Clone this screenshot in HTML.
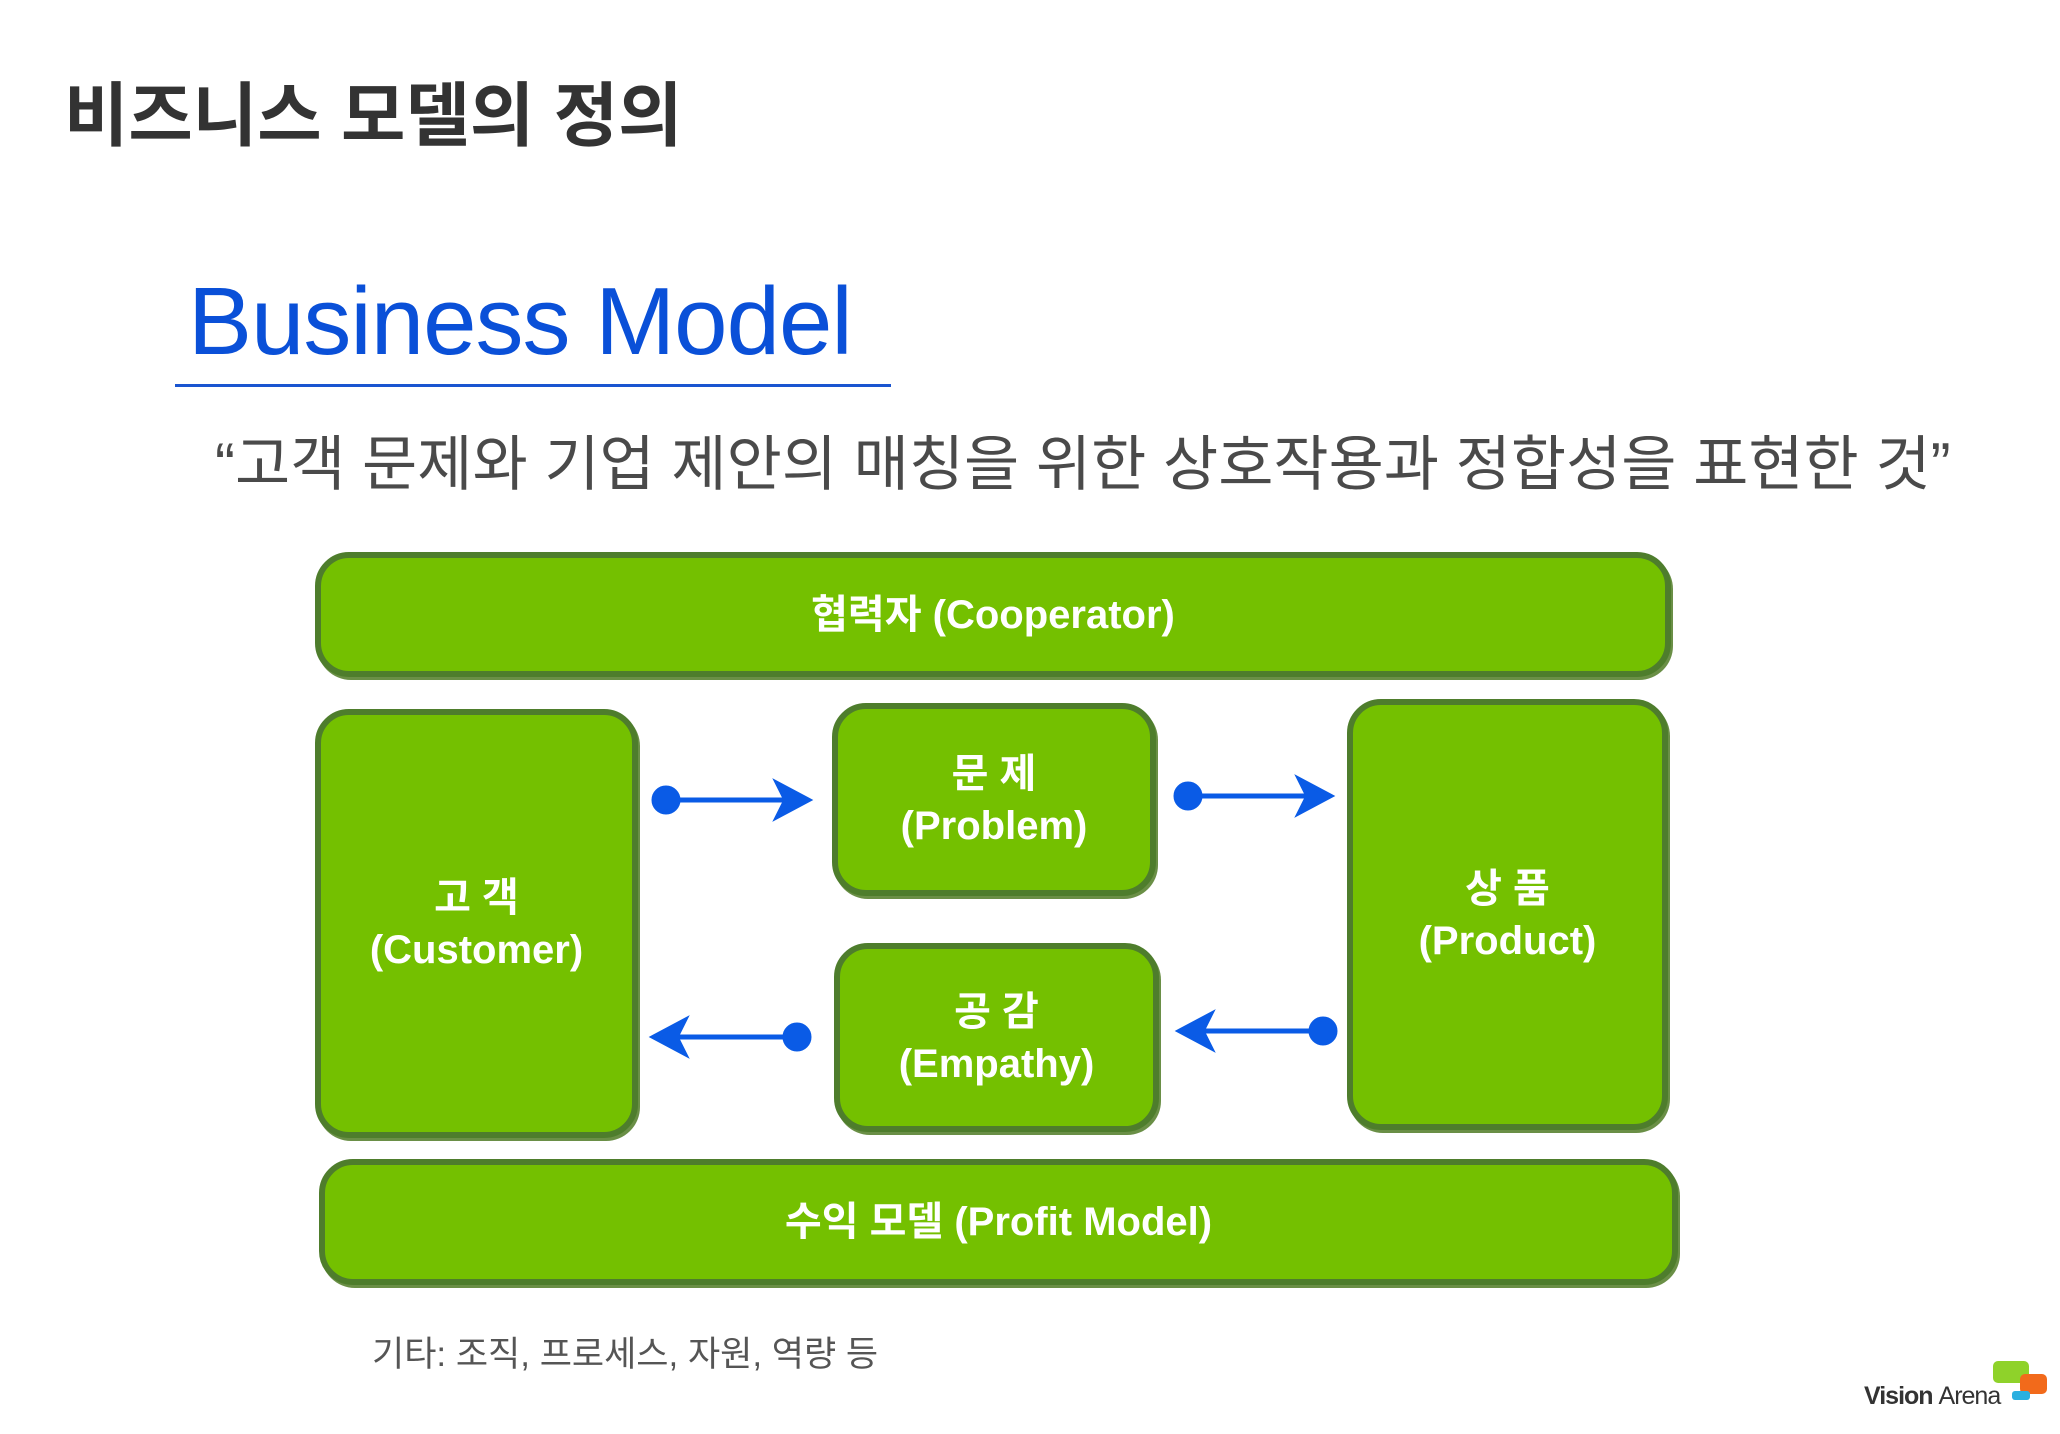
<!DOCTYPE html>
<html><head><meta charset="utf-8"><style>
body{margin:0;width:2060px;height:1434px;background:#fff;position:relative;overflow:hidden;font-family:"Liberation Sans","Noto Sans CJK KR",sans-serif}
.a{position:absolute}
.box{position:absolute;background:#74c000;border:6px solid #4e7d2c;border-radius:34px;box-sizing:border-box;display:flex;align-items:center;justify-content:center;text-align:center;color:#fff;font-weight:bold;font-size:40px;line-height:52px;box-shadow:2px 3px 0 #6a8f46}
</style></head><body>
<div class="a" style="left:64px;top:60px;font-size:70px;font-weight:bold;color:#333">비즈니스 모델의 정의</div>
<div class="a" style="left:188px;top:267px;font-size:96px;color:#0a50d8;letter-spacing:-1px">Business Model</div>
<div class="a" style="left:175px;top:384px;width:716px;height:3px;background:#1a55d0"></div>
<div class="a" style="left:215px;top:416px;font-size:60px;color:#4a4a4a;white-space:nowrap">“고객 문제와 기업 제안의 매칭을 위한 상호작용과 정합성을 표현한 것”</div>
<div class="box" style="left:315px;top:552px;width:1356px;height:125px">협력자 (Cooperator)</div>
<div class="box" style="left:315px;top:709px;width:323px;height:429px">고 객<br>(Customer)</div>
<div class="box" style="left:832px;top:703px;width:324px;height:193px">문 제<br>(Problem)</div>
<div class="box" style="left:834px;top:943px;width:325px;height:189px">공 감<br>(Empathy)</div>
<div class="box" style="left:1347px;top:699px;width:321px;height:431px">상 품<br>(Product)</div>
<div class="box" style="left:319px;top:1159px;width:1359px;height:126px">수익 모델 (Profit Model)</div>
<svg class="a" style="left:0;top:0" width="2060" height="1434">
<g fill="#0a5be6" stroke="#0a5be6" stroke-width="5">
<circle cx="666" cy="800" r="12"/><line x1="666" y1="800" x2="790" y2="800"/><polygon points="808,800 778,784 786,800 778,816"/>
<circle cx="1188" cy="796" r="12"/><line x1="1188" y1="796" x2="1312" y2="796"/><polygon points="1330,796 1300,780 1308,796 1300,812"/>
<circle cx="797" cy="1037" r="12"/><line x1="797" y1="1037" x2="672" y2="1037"/><polygon points="654,1037 684,1021 676,1037 684,1053"/>
<circle cx="1323" cy="1031" r="12"/><line x1="1323" y1="1031" x2="1198" y2="1031"/><polygon points="1180,1031 1210,1015 1202,1031 1210,1047"/>
</g>
<rect x="1993" y="1361" width="36" height="22" rx="5" fill="#8fd22a"/>
<rect x="2020" y="1374" width="27" height="20" rx="5" fill="#f26a1b"/>
<rect x="2012" y="1391" width="18" height="9" rx="3" fill="#2bb0e0"/>
</svg>
<div class="a" style="left:372px;top:1326px;font-size:35px;color:#555">기타: 조직, 프로세스, 자원, 역량 등</div>
<div class="a" style="left:1864px;top:1382px;font-size:25px;color:#333;font-weight:bold;letter-spacing:-1px">Vision <span style="font-weight:normal">Arena</span></div>
</body></html>
